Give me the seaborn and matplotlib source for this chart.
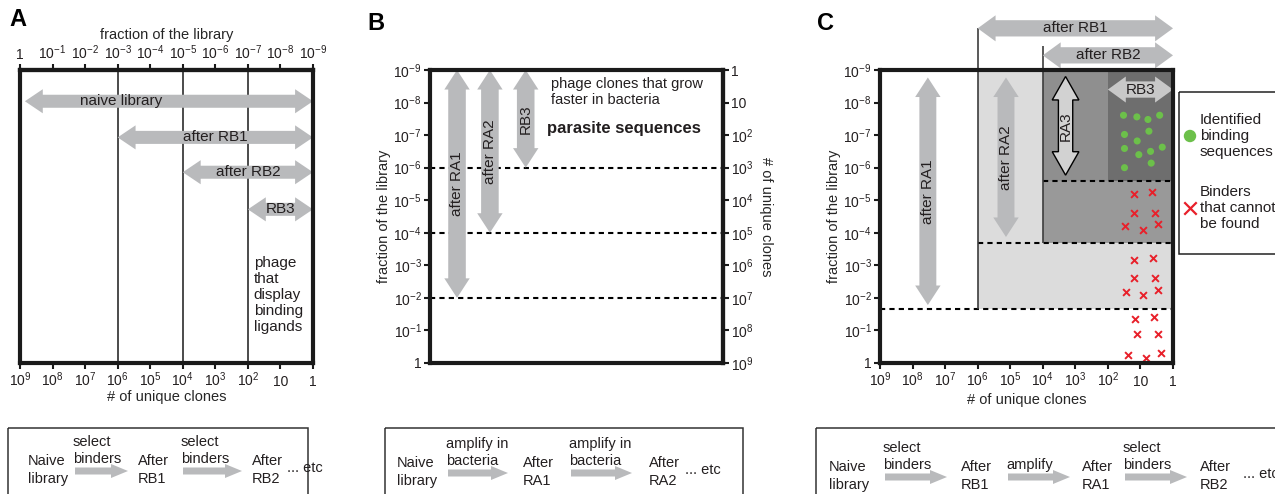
"""Schematic of library diversity after binding (RB) and amplification (RA) rounds."""

import matplotlib

matplotlib.use("Agg")

import matplotlib.patches as mpatches
import matplotlib.pyplot as plt
import numpy as np
import seaborn as sns

# axis positions are decades: 0 -> fraction 1 / 10^9 clones, 9 -> fraction 10^-9 / 1 clone
DECADES = [0, 1, 2, 3, 4, 5, 6, 7, 8, 9]
FRACTION_LABELS = ["1", "$10^{-1}$", "$10^{-2}$", "$10^{-3}$", "$10^{-4}$",
                   "$10^{-5}$", "$10^{-6}$", "$10^{-7}$", "$10^{-8}$", "$10^{-9}$"]
CLONE_LABELS = ["$10^{9}$", "$10^{8}$", "$10^{7}$", "$10^{6}$", "$10^{5}$",
                "$10^{4}$", "$10^{3}$", "$10^{2}$", "10", "1"]

# panel A: selection rounds only
a_labels = ["naive library", "after RB1", "after RB2", "RB3"]
a_start = [0.15, 3, 5, 7]
a_end = [9, 9, 9, 9]
a_dividers = [3, 5, 7]

# panel B: amplification rounds only
b_labels = ["after RA1", "after RA2", "RB3"]
b_top = [9, 9, 9]
b_bottom = [2, 4, 6]
b_cutoffs = [6, 4, 2]

# panel C: alternating selection and amplification
c_vert_labels = ["after RA1", "after RA2", "RA3"]
c_vert_top = [8.77, 8.77, 8.8]
c_vert_bottom = [1.78, 3.87, 5.77]
c_horiz_labels = ["after RB1", "after RB2", "RB3"]
c_horiz_start = [3, 5, 7]
c_horiz_end = [9, 9, 9]
c_cutoffs = [1.66, 3.68, 5.58]

green_x = [7.48, 7.89, 8.23, 8.59, 7.51, 8.26, 7.90, 7.51, 7.95, 8.31, 8.67, 7.51, 8.33]
green_y = [7.61, 7.56, 7.48, 7.61, 7.02, 7.12, 6.82, 6.59, 6.40, 6.50, 6.63, 6.00, 6.14]
red_x = [7.79, 8.36, 7.79, 8.44, 7.54, 8.08, 8.53, 7.79, 8.39, 7.80, 8.46, 7.56, 8.09,
         8.55, 7.83, 8.43, 7.90, 8.53, 7.63, 8.18, 8.62]
red_y = [5.18, 5.25, 4.62, 4.62, 4.20, 4.10, 4.26, 3.16, 3.23, 2.60, 2.60, 2.19, 2.08,
         2.24, 1.34, 1.40, 0.90, 0.90, 0.25, 0.14, 0.30]

flow_a_nodes = ["Naive\nlibrary", "After\nRB1", "After\nRB2"]
flow_a_steps = ["select\nbinders", "select\nbinders"]
flow_b_nodes = ["Naive\nlibrary", "After\nRA1", "After\nRA2"]
flow_b_steps = ["amplify in\nbacteria", "amplify in\nbacteria"]
flow_c_nodes = ["Naive\nlibrary", "After\nRB1", "After\nRA1", "After\nRB2"]
flow_c_steps = ["select\nbinders", "amplify", "select\nbinders"]

ARROW_GREY = "#b9babc"
INK = "#231f20"
GREEN = "#6cc04a"
RED = "#e8202a"
TICK_FS = 10
LABEL_FS = 10.5
ARROW_FS = 11

sns.set_theme(style="ticks")
plt.rcParams["font.family"] = ["Liberation Sans", "DejaVu Sans"]
plt.rcParams["mathtext.fontset"] = "custom"
plt.rcParams["mathtext.rm"] = "Liberation Sans"
plt.rcParams["mathtext.default"] = "regular"
plt.rcParams["text.color"] = INK

W, H = 1275, 494
fig = plt.figure(figsize=(W / 100, H / 100), dpi=100)


def px_axes(left, top, right, bottom):
    return fig.add_axes([left / W, 1 - bottom / H, (right - left) / W, (bottom - top) / H])


def fat_arrow(ax, start, end, shaft, head, head_len, color=ARROW_GREY, ec="none", lw=0,
              both=True, clip=True, zorder=3):
    p0 = np.array(start, dtype=float)
    p1 = np.array(end, dtype=float)
    u = (p1 - p0) / np.linalg.norm(p1 - p0)
    n = np.array([-u[1], u[0]])
    if both:
        pts = [p0, p0 + u * head_len + n * head, p0 + u * head_len + n * shaft]
    else:
        pts = [p0 + n * shaft]
    pts += [p1 - u * head_len + n * shaft, p1 - u * head_len + n * head, p1,
            p1 - u * head_len - n * head, p1 - u * head_len - n * shaft]
    if both:
        pts += [p0 + u * head_len - n * shaft, p0 + u * head_len - n * head]
    else:
        pts += [p0 - n * shaft]
    ax.add_patch(mpatches.Polygon(pts, closed=True, facecolor=color, edgecolor=ec,
                                  linewidth=lw, zorder=zorder, clip_on=clip))


def frame(ax):
    ax.set_xlim(0, 9)
    ax.set_ylim(0, 9)
    for spine in ax.spines.values():
        spine.set_visible(True)
        spine.set_linewidth(3)
        spine.set_color("#1a1a1a")
        spine.set_zorder(6)
    ax.tick_params(length=4, width=1.5, pad=2, labelsize=TICK_FS, colors="#1a1a1a",
                   labelcolor=INK, direction="out")


def bottom_clone_ticks(ax):
    # baseline-align so "10" and "1" sit level with the powers of ten
    ax.set_xticks(DECADES, labels=CLONE_LABELS)
    ax.tick_params(axis="x", pad=12.5)
    for lab in ax.get_xticklabels():
        lab.set_verticalalignment("baseline")


# ---------------- panel A ----------------
ax_a = px_axes(20, 70, 313, 363)
frame(ax_a)
ax_a.set_yticks([])
bottom_clone_ticks(ax_a)
ax_a.set_xlabel("# of unique clones", fontsize=LABEL_FS, labelpad=1)
top_a = ax_a.secondary_xaxis("top")
top_a.set_xticks(DECADES, labels=FRACTION_LABELS)
top_a.tick_params(length=4, width=1.5, pad=2, labelsize=TICK_FS, colors="#1a1a1a",
                  labelcolor=INK)
top_a.spines["top"].set_linewidth(3)
top_a.set_xlabel("fraction of the library", fontsize=LABEL_FS, labelpad=3)
ax_a.vlines(a_dividers, 0, 9, color="#3d3d3d", lw=1.3, zorder=2)
a_rows = [8.04, 6.93, 5.86, 4.72]
a_text_x = [3.1, 6.0, 7.0, 8.0]
for label, x0, x1, y, tx in zip(a_labels, a_start, a_end, a_rows, a_text_x):
    fat_arrow(ax_a, (x0, y), (x1, y), 0.2, 0.37, 0.55)
    ax_a.text(tx, y, label, ha="center", va="center", fontsize=ARROW_FS, zorder=4)
ax_a.text(7.18, 3.3, "phage\nthat\ndisplay\nbinding\nligands", ha="left", va="top",
          fontsize=ARROW_FS, linespacing=1.2)

# ---------------- panel B ----------------
ax_b = px_axes(430, 70, 723, 363)
frame(ax_b)
ax_b.set_xticks([])
ax_b.tick_params(axis="x", bottom=False, labelbottom=False)
ax_b.set_yticks(DECADES, labels=FRACTION_LABELS)
ax_b.set_ylabel("fraction of the library", fontsize=LABEL_FS, labelpad=2)
right_b = ax_b.secondary_yaxis("right")
right_b.set_yticks(DECADES, labels=CLONE_LABELS)
right_b.tick_params(length=4, width=1.5, pad=2, labelsize=TICK_FS, colors="#1a1a1a",
                    labelcolor=INK)
right_b.spines["right"].set_linewidth(3)
right_b.set_ylabel("# of unique clones", fontsize=LABEL_FS, rotation=270, labelpad=14)
ax_b.hlines(b_cutoffs, 0, 9, color="black", lw=1.5, linestyles=(0, (2.5, 2)), zorder=2)
b_cols = [0.83, 1.84, 2.94]
for label, top, bottom, x in zip(b_labels, b_top, b_bottom, b_cols):
    fat_arrow(ax_b, (x, top), (x, bottom), 0.27, 0.39, 0.6)
    ax_b.text(x, (top + bottom) / 2, label, rotation=90, ha="center", va="center",
              fontsize=ARROW_FS, zorder=4)
ax_b.text(3.71, 8.33, "phage clones that grow\nfaster in bacteria", ha="left", va="center",
          fontsize=LABEL_FS, linespacing=1.2)
ax_b.text(3.58, 7.2, "parasite sequences", ha="left", va="center", fontsize=12,
          fontweight="bold")

# ---------------- panel C ----------------
ax_c = px_axes(880, 70, 1173, 363)
frame(ax_c)
bottom_clone_ticks(ax_c)
ax_c.set_yticks(DECADES, labels=FRACTION_LABELS)
ax_c.set_xlabel("# of unique clones", fontsize=LABEL_FS, labelpad=3)
ax_c.set_ylabel("fraction of the library", fontsize=LABEL_FS, labelpad=2)

shades = [(3, c_cutoffs[0], "#dcdcdc"), (5, c_cutoffs[1], "#999999")]
for x0, y0, color in shades:
    ax_c.add_patch(mpatches.Rectangle((x0, y0), 9 - x0, 9 - y0, facecolor=color,
                                      edgecolor="none", zorder=0))
ax_c.add_patch(mpatches.Rectangle((5, c_cutoffs[2]), 2, 9 - c_cutoffs[2], facecolor="#8f8f8f",
                                  edgecolor="none", zorder=0))
ax_c.add_patch(mpatches.Rectangle((7, c_cutoffs[2]), 2, 9 - c_cutoffs[2], facecolor="#6e6e6e",
                                  edgecolor="none", zorder=0))
for y, x0 in zip(c_cutoffs, [0, 3, 5]):
    ax_c.hlines(y, x0, 9, color="black", lw=1.5, linestyles=(0, (2.5, 2)), zorder=2)

c_rows = [10.28, 9.45, 8.4]
ax_c.vlines(c_horiz_start[0], c_cutoffs[0], c_rows[0], color="#3d3d3d", lw=1.2, zorder=2,
            clip_on=False)
ax_c.vlines(c_horiz_start[1], c_cutoffs[1], c_rows[1] + 0.3, color="#3d3d3d", lw=1.2, zorder=2,
            clip_on=False)
for i, (label, x0, x1, y) in enumerate(zip(c_horiz_labels, c_horiz_start, c_horiz_end, c_rows)):
    color = "#c8c8c8" if i == 2 else ARROW_GREY
    fat_arrow(ax_c, (x0, y), (x1, y), 0.25, 0.4, 0.55, color=color, clip=False)
    ax_c.text((x0 + x1) / 2, y, label, ha="center", va="center", fontsize=ARROW_FS, zorder=4,
              clip_on=False)

c_cols = [1.47, 3.87, 5.7]
for i, (label, top, bottom, x) in enumerate(zip(c_vert_labels, c_vert_top, c_vert_bottom, c_cols)):
    if i == 2:
        fat_arrow(ax_c, (x, top), (x, bottom), 0.22, 0.41, 0.72, color="#d2d2d2", ec="black",
                  lw=1.0)
    else:
        fat_arrow(ax_c, (x, top), (x, bottom), 0.26, 0.39, 0.6)
    ax_c.text(x, (top + bottom) / 2, label, rotation=90, ha="center", va="center",
              fontsize=ARROW_FS, zorder=4)

sns.scatterplot(x=green_x, y=green_y, ax=ax_c, color=GREEN, s=26, edgecolor="none",
                zorder=5, legend=False)
sns.scatterplot(x=red_x, y=red_y, ax=ax_c, color=RED, marker="x", s=24, linewidth=1.4,
                zorder=5, legend=False)
ax_c.set_xlim(0, 9)
ax_c.set_ylim(0, 9)

# ---------------- overlay: labels, legend, flow boxes ----------------
ov = fig.add_axes([0, 0, 1, 1], zorder=10)
ov.set_xlim(0, W)
ov.set_ylim(H, 0)
ov.axis("off")

for letter, x, y in [("A", 9, 20), ("B", 367, 24), ("C", 817, 24)]:
    ov.text(x, y, letter, fontsize=17, fontweight="bold", ha="left", va="center", color="black")

ov.add_patch(mpatches.Rectangle((1179, 92), 130, 162, fill=False, edgecolor="#222222", lw=1.1))
ov.scatter([1190], [136], s=80, color=GREEN, edgecolor="none")
ov.scatter([1190], [208], s=80, color=RED, marker="x", linewidths=1.6)
ov.text(1200, 136, "Identified\nbinding\nsequences", ha="left", va="center", fontsize=11,
        linespacing=1.2)
ov.text(1200, 208, "Binders\nthat cannot\nbe found", ha="left", va="center", fontsize=11,
        linespacing=1.2)


def draw_flow(nodes, steps, box, node_x, arrow_x, etc_x, row_y):
    left, right = box
    ov.add_patch(mpatches.Rectangle((left, 428), right - left, 100, fill=False,
                                    edgecolor="#333333", lw=1.1))
    for label, x in zip(nodes, node_x):
        ov.text(x, row_y, label, ha="left", va="center", fontsize=10.5, linespacing=1.3)
    for label, (x0, x1) in zip(steps, arrow_x):
        fat_arrow(ov, (x0, row_y + 1), (x1, row_y + 1), 3.5, 7, 17, both=False)
        ov.text(x0 - 2, row_y - 4, label, ha="left", va="bottom", fontsize=10.5,
                linespacing=1.3)
    ov.text(etc_x, row_y - 2, "... etc", ha="left", va="center", fontsize=10.5)


draw_flow(flow_a_nodes, flow_a_steps, (8, 308), [28, 138, 252], [(75, 128), (183, 242)],
          287, 470)
draw_flow(flow_b_nodes, flow_b_steps, (385, 743), [397, 523, 649], [(448, 508), (571, 632)],
          685, 472)
draw_flow(flow_c_nodes, flow_c_steps, (816, 1300), [829, 961, 1082, 1200],
          [(885, 947), (1008, 1070), (1125, 1187)], 1243, 476)

fig.savefig("out.png", dpi=100)
